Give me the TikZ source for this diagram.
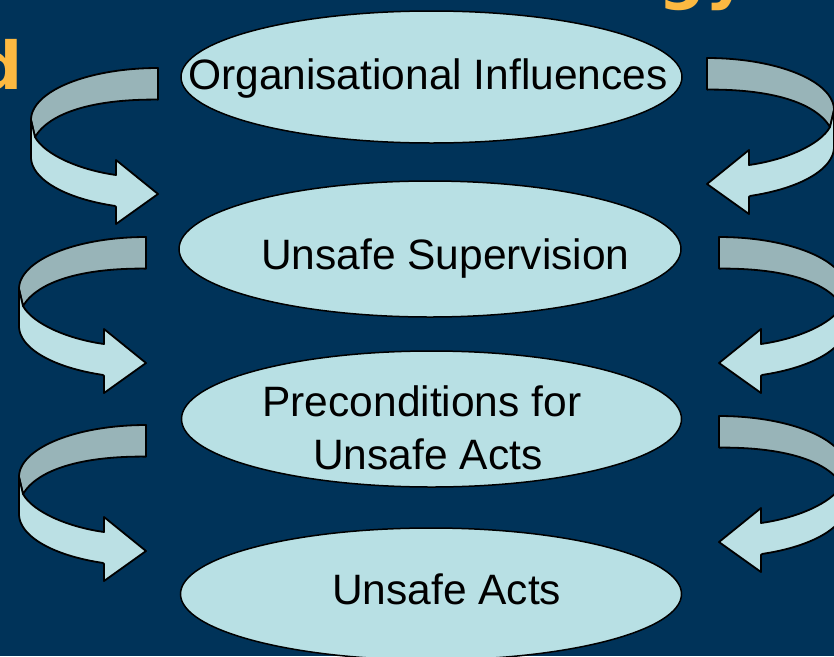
\documentclass[tikz,border=0pt]{standalone}
\usepackage{fontspec}
\setmainfont{Liberation Sans}
\newfontfamily\titlefont{DejaVu Sans}
\usetikzlibrary{shapes.geometric,calc}
\definecolor{bgcol}{HTML}{003359}
\definecolor{ellcol}{HTML}{B8E0E4}
\definecolor{frontcol}{HTML}{BBE0E4}
\definecolor{backcol}{HTML}{98B4B8}
\definecolor{titlecol}{HTML}{FCB941}
\tikzset{
  ell/.style={ellipse, draw=black, line width=1.5pt, fill=ellcol, inner sep=0pt,
    minimum width=501pt, minimum height=132pt},
  lbl/.style={font=\fontsize{42.5}{53.5}\selectfont, text=black, inner sep=0pt, anchor=base},
  ttl/.style={font=\titlefont\bfseries\fontsize{66}{70}\selectfont, text=titlecol, inner sep=0pt},
  face/.style={draw=black, line width=1.8pt, line join=round},
  curvarrow/.pic={
    % back (inner) face of the ribbon
    \path[face, fill=backcol]
      (0,31.6) -- (0,0)
      -- plot[domain=0:90, samples=40] ({-127*sin(\x)},{52-52*cos(\x)})
      -- (-123,69) .. controls (-108,44) and (-63,31) .. (0,31.6) -- cycle;
    % front face with arrow head
    \path[face, fill=frontcol]
      (-127,52) -- (-123,69) .. controls (-113,87) and (-78,102) .. (-42,107)
      -- (-42,92) -- (0,126) -- (-42,156) -- (-42,138.8)
      -- plot[domain=20:90, samples=40] ({-127*sin(\x)},{89+52*cos(\x)})
      -- cycle;
  }
}
\begin{document}
\begin{tikzpicture}[x=1pt,y=-1pt]
\useasboundingbox (0,0) rectangle (834,656);
\fill[bgcol] (0,0) rectangle (834,656);
\clip (0,0) rectangle (834,656);

% partial title text (cut by the picture edge)
\node[ttl, anchor=south east] (t1) at (23,91) {d};
\node[ttl, anchor=south west] (t2) at (658,11) {gy};

% level ellipses
\node[ell] (oi) at (431.5,77) {};
\node[ell, minimum width=502pt, minimum height=136pt] (us) at (430,249) {};
\node[ell, minimum width=500pt, minimum height=136pt] (pc) at (431.5,419) {};
\node[ell] (ua) at (431,594) {};

\node[lbl] (oit) at ($(oi.center)+(-3.5,12.3)$) {Organisational Influences};
\node[lbl] (ust) at ($(us.center)+(15.3,20.5)$) {Unsafe Supervision};
\node[lbl, align=center] (pct) at ($(pc.center)+(-3.7,50.5)$) {Preconditions for\hspace*{.28em}\\Unsafe Acts};
\node[lbl] (uat) at ($(ua.center)+(15.7,10)$) {Unsafe Acts};

% curved arrows, left side
\pic at (158,68) {curvarrow};
\pic at (146,237) {curvarrow};
\pic at (146,425) {curvarrow};
% curved arrows, right side (mirrored)
\pic[xscale=-1] at (707,58) {curvarrow};
\pic[xscale=-1] at (719,237) {curvarrow};
\pic[xscale=-1] at (719,416) {curvarrow};
\end{tikzpicture}
\end{document}
